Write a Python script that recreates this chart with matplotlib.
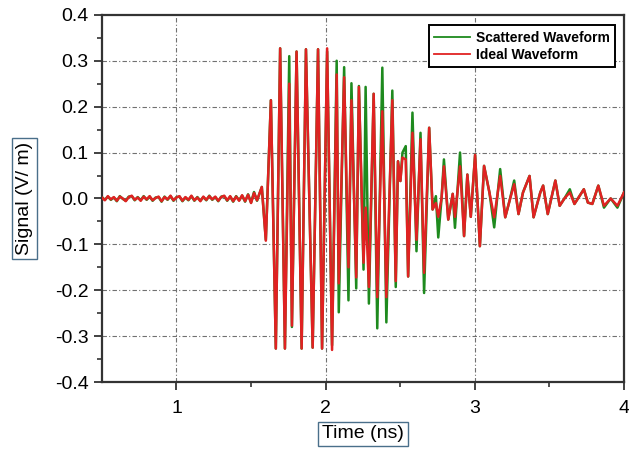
import matplotlib.pyplot as plt
import numpy as np

# pre-burst noise (t = 0.50 ... 1.54, step 0.02)
noise_t = np.round(np.arange(0.50, 1.541, 0.02), 3)
noise_red = [0.002, -0.004, 0.005, -0.002, 0.003, -0.005, 0.004, 0.000, -0.006, 0.003,
             0.006, -0.003, 0.002, -0.005, 0.004, -0.002, 0.005, -0.004, 0.001, 0.004,
             -0.006, 0.003, -0.002, 0.006, -0.004, 0.002, 0.005, -0.005, 0.003, -0.003,
             0.006, -0.004, 0.002, -0.006, 0.004, -0.003, 0.005, -0.002, 0.004, -0.005,
             0.003, 0.006, -0.004, 0.005, -0.006, 0.004, -0.005, 0.007, -0.006, 0.008,
             -0.010, 0.012, -0.004]
noise_green = [0.003, -0.003, 0.004, -0.003, 0.002, -0.006, 0.005, -0.001, -0.005, 0.004,
               0.005, -0.004, 0.003, -0.004, 0.005, -0.003, 0.004, -0.005, 0.002, 0.003,
               -0.007, 0.004, -0.003, 0.005, -0.005, 0.003, 0.004, -0.006, 0.002, -0.004,
               0.005, -0.005, 0.003, -0.005, 0.003, -0.004, 0.006, -0.003, 0.003, -0.006,
               0.004, 0.005, -0.005, 0.004, -0.007, 0.005, -0.004, 0.006, -0.007, 0.009,
               -0.009, 0.014, -0.005]

# burst and ringing (peaks / troughs)
burst_t = [1.572, 1.599, 1.633, 1.666, 1.695, 1.727, 1.756, 1.774, 1.805, 1.839,
           1.868, 1.913, 1.949, 1.976, 2.010, 2.043, 2.074, 2.088, 2.124, 2.153,
           2.173, 2.205, 2.223, 2.254, 2.268, 2.290, 2.322, 2.346, 2.380, 2.407,
           2.447, 2.470, 2.485, 2.501, 2.515, 2.537, 2.553, 2.582, 2.609, 2.636,
           2.660, 2.694, 2.717, 2.739, 2.755, 2.777, 2.793, 2.822, 2.852, 2.867,
           2.901, 2.928, 2.950, 2.973, 3.002, 3.034, 3.062, 3.098, 3.130, 3.170,
           3.204, 3.233, 3.264, 3.293, 3.323, 3.367, 3.394, 3.439, 3.458, 3.489,
           3.540, 3.569, 3.601, 3.637, 3.668, 3.731, 3.758, 3.788, 3.828, 3.866,
           3.911, 3.956, 4.000]
burst_red = [0.025, -0.092, 0.214, -0.327, 0.327, -0.327, 0.250, -0.277, 0.320, -0.327,
             0.325, -0.325, 0.325, -0.327, 0.327, -0.330, 0.270, -0.185, 0.264, -0.150,
             0.214, -0.172, 0.243, -0.140, -0.020, -0.193, 0.228, -0.215, 0.190, -0.215,
             0.214, -0.180, 0.081, 0.038, 0.089, 0.085, -0.170, 0.143, -0.090, 0.129,
             -0.162, 0.154, -0.024, -0.010, -0.040, 0.000, 0.070, -0.046, 0.010, -0.040,
             0.070, -0.082, 0.052, -0.040, 0.095, -0.104, 0.071, 0.013, -0.041, 0.049,
             -0.041, -0.005, 0.031, -0.034, 0.013, 0.049, -0.041, 0.013, 0.028, -0.034,
             0.039, -0.016, 0.000, 0.013, -0.012, 0.020, -0.009, -0.012, 0.028, -0.016,
             0.000, -0.016, 0.013]
burst_green = [0.025, -0.090, 0.214, -0.327, 0.327, -0.327, 0.310, -0.280, 0.320, -0.327,
               0.325, -0.325, 0.325, -0.327, 0.320, -0.320, 0.300, -0.248, 0.286, -0.222,
               0.251, -0.196, 0.245, -0.155, 0.243, -0.229, 0.228, -0.283, 0.285, -0.270,
               0.235, -0.193, 0.081, 0.038, 0.100, 0.114, -0.170, 0.187, -0.115, 0.143,
               -0.206, 0.154, -0.024, 0.005, -0.085, 0.000, 0.085, -0.046, 0.010, -0.064,
               0.100, -0.082, 0.052, -0.040, 0.095, -0.104, 0.071, 0.013, -0.063, 0.064,
               -0.041, -0.005, 0.039, -0.034, 0.013, 0.049, -0.041, 0.013, 0.028, -0.034,
               0.039, -0.016, 0.000, 0.020, -0.012, 0.020, -0.009, -0.012, 0.028, -0.020,
               0.000, -0.020, 0.013]

y_ticks = [-0.4, -0.3, -0.2, -0.1, 0.0, 0.1, 0.2, 0.3, 0.4]
y_labels = ['-0.4', '-0.3', '-0.2', '-0.1', '0.0', '0.1', '0.2', '0.3', '0.4']

t = np.concatenate([noise_t, burst_t])
red = np.concatenate([noise_red, burst_red])
green = np.concatenate([noise_green, burst_green])

plt.rcParams['font.family'] = ['Liberation Sans', 'DejaVu Sans']

fig = plt.figure(figsize=(6.29, 4.5), dpi=100)
ax = fig.add_axes([0.162, 0.151, 0.830, 0.816])

grid_style = dict(color='#707070', lw=0.8, ls=(0, (4, 2, 1, 2)), zorder=0)
for gx in [1, 2, 3]:
    ax.axvline(gx, **grid_style)
for gy in y_ticks[1:-1]:
    ax.axhline(gy, **grid_style)

ax.plot(t, green, color='#1e8a1e', lw=1.8, label='Scattered Waveform', zorder=2)
ax.plot(t, red, color='#e02222', lw=1.8, label='Ideal Waveform', zorder=3)

ax.set_xlim(0.5, 4)
ax.set_ylim(-0.4, 0.4)
ax.set_xticks([1, 2, 3, 4])
ax.set_xticks([1.5, 2.5, 3.5], minor=True)
ax.set_yticks(y_ticks, y_labels)
ax.set_yticks(np.round(np.arange(-0.35, 0.36, 0.1), 2), minor=True)
ax.tick_params(which='major', length=6, width=1.3, labelsize=14, color='#333333')
ax.tick_params(which='minor', length=3.5, width=1.2, color='#333333')
ax.tick_params(axis='x', pad=7)
for s in ax.spines.values():
    s.set_linewidth(1.6)
    s.set_color('#333333')

box = dict(boxstyle='square,pad=0.2', fc='white', ec='#4a6f8a', lw=1)
ax.set_xlabel('Time (ns)', fontsize=14, bbox=box, labelpad=6)
ax.set_ylabel('Signal (V/ m)', fontsize=14, bbox=box, labelpad=16)

leg = ax.legend(loc='upper right', fancybox=False, edgecolor='black', framealpha=1,
                prop={'weight': 'bold', 'size': 10}, handlelength=2.6,
                borderpad=0.4, labelspacing=0.2, handletextpad=0.4,
                bbox_to_anchor=(0.997, 0.99))
leg.get_frame().set_linewidth(1.4)
for h in leg.get_lines():
    h.set_linewidth(1.3)

fig.savefig('out.png', dpi=100)
